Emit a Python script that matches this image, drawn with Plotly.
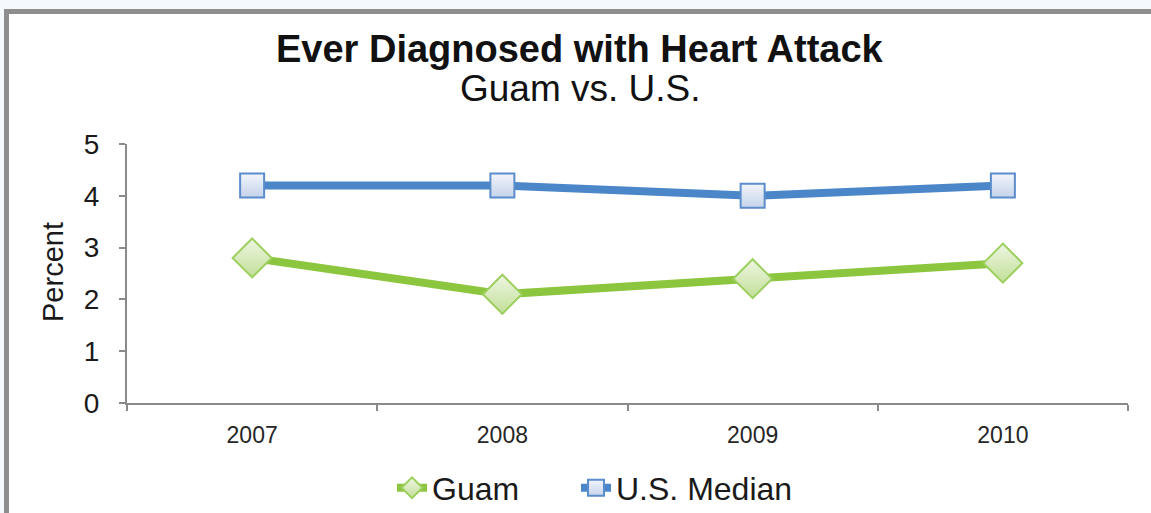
import plotly.graph_objects as go

years = ["2007", "2008", "2009", "2010"]
guam = [2.8, 2.1, 2.4, 2.7]
us_median = [4.2, 4.2, 4.0, 4.2]
y_ticks = [0, 1, 2, 3, 4, 5]

W, H = 1151, 513
L, R, T, B = 127, 23, 144, 110
pw, ph = W - L - R, H - T - B

def px_x(x):
    return (x - L) / pw

def px_y(y):
    return (H - B - y) / ph

FONT = "Liberation Sans, Arial, sans-serif"

fig = go.Figure()
fig.add_trace(go.Scatter(
    x=years, y=guam, name="Guam", mode="lines+markers", legend="legend",
    line=dict(color="#8cc63f", width=8),
    marker=dict(symbol="diamond", size=30, color="#eef6e2",
                gradient=dict(type="vertical", color="#c2df98"),
                line=dict(color="#9ccf5e", width=2)),
))
fig.add_trace(go.Scatter(
    x=years, y=us_median, name="U.S. Median", mode="lines+markers", legend="legend2",
    line=dict(color="#4a86c8", width=8),
    marker=dict(symbol="square", size=24, color="#f2f5fb",
                gradient=dict(type="vertical", color="#c5d3ea"),
                line=dict(color="#5b8ccb", width=2)),
))

fig.add_shape(type="rect", xref="paper", yref="paper", layer="below",
              x0=px_x(6.5), x1=px_x(W + 20), y0=px_y(H + 20), y1=px_y(11.5),
              line=dict(color="#8e8e8e", width=5), fillcolor="white")

fig.add_annotation(text="<b>Ever Diagnosed with Heart Attack</b>", xref="paper", yref="paper",
                   x=px_x(580), y=px_y(49), xanchor="center", yanchor="middle",
                   showarrow=False, font=dict(size=38, color="#111111", family=FONT))
fig.add_annotation(text="Guam vs. U.S.", xref="paper", yref="paper",
                   x=px_x(580), y=px_y(88), xanchor="center", yanchor="middle",
                   showarrow=False, font=dict(size=37, color="#111111", family=FONT))
fig.add_annotation(text="Percent", xref="paper", yref="paper", textangle=-90,
                   x=px_x(53), y=px_y(272), xanchor="center", yanchor="middle",
                   showarrow=False, font=dict(size=29, color="#1a1a1a", family=FONT))

legend_common = dict(orientation="h", xref="container", yref="container",
                     xanchor="left", y=(H - 488) / H, yanchor="middle",
                     font=dict(size=32, color="#1a1a1a", family=FONT),
                     bgcolor="rgba(0,0,0,0)")

fig.update_layout(
    width=W, height=H,
    margin=dict(l=L, r=R, t=T, b=B),
    paper_bgcolor="#f5f8fc", plot_bgcolor="rgba(0,0,0,0)",
    font=dict(family=FONT, color="#1a1a1a"),
    showlegend=True,
    legend=dict(x=392 / W, **legend_common),
    legend2=dict(x=576 / W, **legend_common),
    xaxis=dict(
        type="category", range=[-0.5, 3.5], tickson="boundaries",
        showline=True, linecolor="#8a8a8a", linewidth=2,
        ticks="outside", ticklen=6, tickcolor="#8a8a8a", tickwidth=2,
        showgrid=False, zeroline=False, automargin=False,
        tickfont=dict(size=23, color="#262626"), ticklabelstandoff=10,
    ),
    yaxis=dict(
        range=[0, 5], tickvals=y_ticks,
        showline=True, linecolor="#8a8a8a", linewidth=2,
        ticks="outside", ticklen=6, tickcolor="#8a8a8a", tickwidth=2,
        showgrid=False, zeroline=False, automargin=False,
        tickfont=dict(size=28, color="#1a1a1a"), ticklabelstandoff=14,
    ),
)

fig.write_html("out.html", config={"displayModeBar": False},
               post_script="document.body.style.margin='0';document.body.style.overflow='hidden';")
